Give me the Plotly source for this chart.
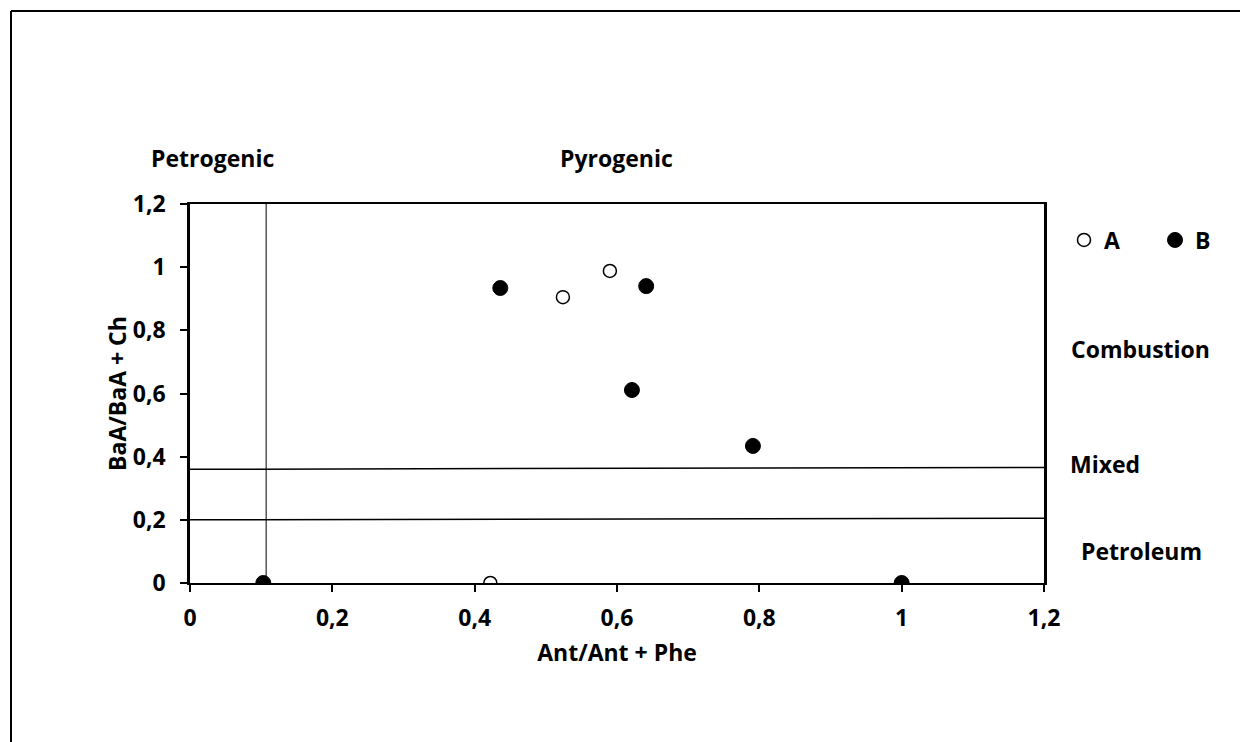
import plotly.graph_objects as go

# sample A (open circles) and B (filled circles)
a_x = [0.422, 0.524, 0.590, 1.0]
a_y = [0.0, 0.905, 0.988, 0.0]
b_x = [0.103, 0.436, 0.641, 0.621, 0.791, 1.0]
b_y = [0.0, 0.934, 0.940, 0.611, 0.434, 0.0]

# boundary lines
petro_split_x = [0.107, 0.107]
petro_split_y = [0.0, 1.2]
mixed_line_x = [0.0, 1.2]
mixed_line_y = [0.360, 0.366]
petroleum_line_x = [0.0, 1.2]
petroleum_line_y = [0.200, 0.205]

tick_vals = [0, 0.2, 0.4, 0.6, 0.8, 1, 1.2]
tick_text = ["0", "0,2", "0,4", "0,6", "0,8", "1", "1,2"]

# page body has an 8px margin, so the figure is shrunk and shifted by it
OFF = 8
W, H = 1248 - OFF, 742 - OFF
L, R, T, B = 190 - OFF, 204, 204 - OFF, 159
pw, ph = W - L - R, H - T - B


def px(x):
    return (x - OFF - L) / pw


def py(y):
    return (H - B - (y - OFF)) / ph


font = dict(family="Open Sans, sans-serif", size=23, color="black")
bold = lambda s: f"<b>{s}</b>"

fig = go.Figure()
for xs, ys, w in [(petro_split_x, petro_split_y, 1),
                  (mixed_line_x, mixed_line_y, 1.5),
                  (petroleum_line_x, petroleum_line_y, 1.5)]:
    fig.add_trace(go.Scatter(x=xs, y=ys, mode="lines", showlegend=False,
                             line=dict(color="black", width=w), hoverinfo="skip"))

fig.add_trace(go.Scatter(x=a_x, y=a_y, mode="markers", name=bold("A"),
                         marker=dict(symbol="circle", size=13, color="white",
                                     line=dict(color="black", width=1.5))))
fig.add_trace(go.Scatter(x=b_x, y=b_y, mode="markers", name=bold("B"),
                         marker=dict(symbol="circle", size=15, color="black",
                                     line=dict(color="black", width=1))))

axis = dict(range=[0, 1.2], tickvals=tick_vals, ticktext=[bold(t) for t in tick_text],
            showgrid=False, zeroline=False, showline=True, linecolor="black",
            linewidth=2, mirror=True, ticks="outside", ticklen=7, tickwidth=2,
            tickcolor="black", tickfont=font)

fig.update_layout(
    width=W, height=H,
    margin=dict(l=L, r=R, t=T, b=B, autoexpand=False),
    paper_bgcolor="white", plot_bgcolor="white",
    font=font,
    xaxis=dict(axis, ticklabelstandoff=6,
               title=dict(text=bold("Ant/Ant + Phe"), font=font, standoff=13)),
    yaxis=dict(axis, ticklabelstandoff=10, linewidth=2.5,
               title=dict(text=bold("BaA/BaA + Ch"), font=font, standoff=0)),
    legend=dict(orientation="h", x=px(1064), y=py(240), xanchor="left", yanchor="middle",
                font=font, itemwidth=30, entrywidth=46, bgcolor="rgba(0,0,0,0)"),
    shapes=[
        dict(type="line", xref="paper", yref="paper", x0=px(11), x1=px(1260), y0=py(11), y1=py(11),
             line=dict(color="black", width=2)),
        dict(type="line", xref="paper", yref="paper", x0=px(11), x1=px(11), y0=py(11), y1=py(760),
             line=dict(color="black", width=2)),
    ],
)

labels = [("Petrogenic", 212, 158), ("Pyrogenic", 616, 158), ("Combustion", 1140, 349),
          ("Mixed", 1105, 464), ("Petroleum", 1141, 551)]
for txt, x, y in labels:
    fig.add_annotation(text=bold(txt), xref="paper", yref="paper", x=px(x), y=py(y),
                       showarrow=False, font=font, xanchor="center", yanchor="middle")

fig.write_html("out.html")
